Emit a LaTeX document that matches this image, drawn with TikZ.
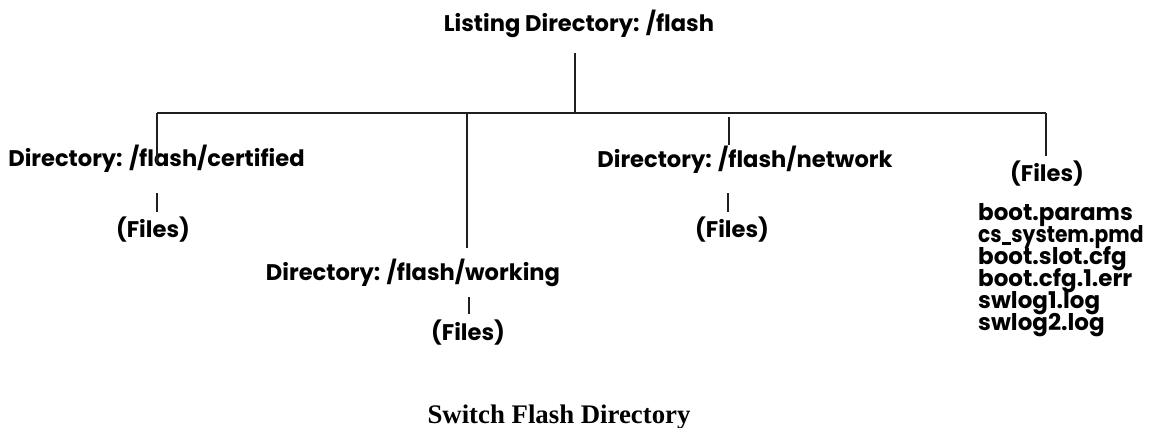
\documentclass[tikz,border=0pt]{standalone}
\usepackage{fontspec}
\usepackage{graphicx}
\setmainfont{Liberation Serif}
\newfontfamily\futfont{Poppins}[UprightFont=* Bold]
\newcommand{\uscore}{\kern0.5pt\rule[-2.5pt]{10pt}{2.2pt}\kern0.5pt}
\begin{document}
\begin{tikzpicture}[x=1pt,y=1pt,
  lbl/.style={inner sep=0pt,anchor=base,font=\futfont\fontsize{22.6}{26}\selectfont},
  lst/.style={inner sep=0pt,anchor=base west,font=\futfont\fontsize{23}{26}\selectfont},
  conn/.style={line width=1.6pt,color=black!88}]
\useasboundingbox (0,0) rectangle (1153,-428);
% nodes
\node[lbl] (root) at (579,-32) {Listing Directory: /flash};
\node[lbl] (cert) at (156.5,-166) {Directory: /flash/certified};
\node[lbl] (certf) at (153,-237) {(Files)};
\node[lbl] (work) at (413,-280) {Directory: /flash/working};
\node[lbl] (workf) at (468,-340) {(Files)};
\node[lbl] (net) at (745,-167) {Directory: /flash/network};
\node[lbl] (netf) at (732,-237) {(Files)};
\node[lbl] (rootf) at (1047,-181) {(Files)};
\node[lst] (f1) at (978,-220) {boot.params};
\node[lst] (f2) at (978,-242) {\scalebox{0.88}[1]{cs\uscore system.pmd}};
\node[lst] (f3) at (978,-264) {boot.slot.cfg};
\node[lst] (f4) at (978,-286) {boot.cfg.1.err};
\node[lst] (f5) at (978,-308) {swlog1.log};
\node[lst] (f6) at (978,-330) {swlog2.log};
\node[inner sep=0pt,anchor=base,font=\bfseries\fontsize{26.8}{30}\selectfont] (cap) at (559,-423) {Switch Flash Directory};
% coordinates
\coordinate (rootb) at (575,-53);
\coordinate (bus) at (575,-113);
\coordinate (busL) at (157,-113);
\coordinate (busR) at (1046,-113);
\coordinate (certt) at (157,-163);
\coordinate (certb) at (157,-193);
\coordinate (certft) at (157,-212);
\coordinate (workb0) at (467,-113);
\coordinate (workt) at (467,-248);
\coordinate (workb) at (469,-297);
\coordinate (workft) at (469,-314);
\coordinate (nett0) at (729,-117);
\coordinate (nett) at (729,-145);
\coordinate (netb) at (728,-193);
\coordinate (netft) at (728,-212);
\coordinate (rootft) at (1046,-156);
% connectors
\draw[conn] (rootb) -- (bus);
\draw[conn] (busL) -- (busR);
\draw[conn] (busL) -- (certt);
\draw[conn] (certb) -- (certft);
\draw[conn] (workb0) -- (workt);
\draw[conn] (workb) -- (workft);
\draw[conn] (nett0) -- (nett);
\draw[conn] (netb) -- (netft);
\draw[conn] (busR) -- (rootft);
\end{tikzpicture}
\end{document}
